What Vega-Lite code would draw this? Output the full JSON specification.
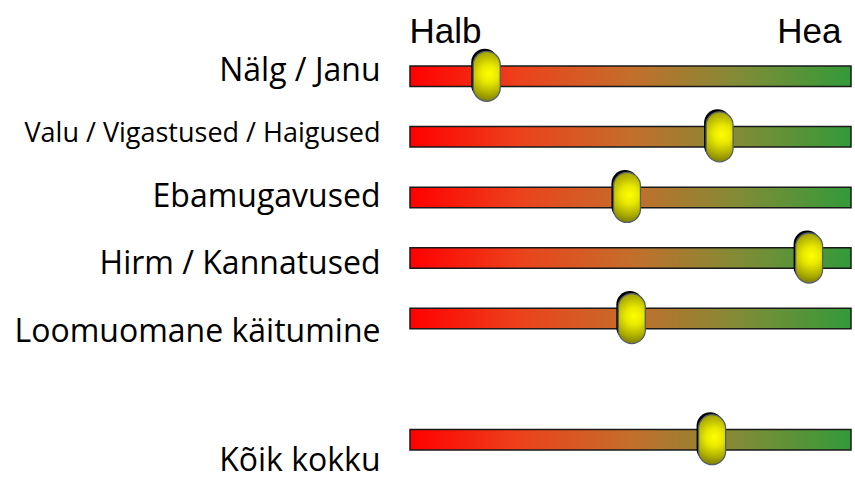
{
  "$schema": "https://vega.github.io/schema/vega-lite/v6.json",
  "width": 441,
  "height": 424,
  "autosize": {"type": "none"},
  "padding": {"left": 410, "top": 46, "right": 4, "bottom": 9},
  "background": "white",
  "config": {"view": {"stroke": null}},
  "data": {
    "values": [
      {"item": "Nälg / Janu", "score": 17.4},
      {"item": "Valu / Vigastused / Haigused", "score": 70.2},
      {"item": "Ebamugavused", "score": 49.2},
      {"item": "Hirm / Kannatused", "score": 90.5},
      {"item": "Loomuomane käitumine", "score": 50.3},
      {"item": "Kõik kokku", "score": 68.5}
    ]
  },
  "encoding": {
    "y": {
      "field": "item",
      "type": "nominal",
      "scale": {
        "type": "band",
        "domain": ["Nälg / Janu", "Valu / Vigastused / Haigused", "Ebamugavused", "Hirm / Kannatused", "Loomuomane käitumine", " ", "Kõik kokku"],
        "paddingInner": 0,
        "paddingOuter": 0
      },
      "axis": {
        "title": null,
        "domain": false,
        "ticks": false,
        "tickSize": 0,
        "grid": false,
        "labelPadding": 30,
        "labelFont": "Open Sans",
        "labelColor": "black",
        "labelLimit": 600,
        "labelBaseline": "middle",
        "labelFontSize": {"condition": {"test": "datum.value === 'Valu / Vigastused / Haigused'", "value": 27}, "value": 32},
        "labelOffset": {"expr": "datum.value === 'Nälg / Janu' ? -5 : datum.value === 'Valu / Vigastused / Haigused' ? -3 : datum.value === 'Ebamugavused' ? 0 : datum.value === 'Hirm / Kannatused' ? 6 : datum.value === 'Loomuomane käitumine' ? 13 : datum.value === 'Kõik kokku' ? 21 : 0"}
      }
    }
  },
  "layer": [
    {
      "mark": {
        "type": "bar",
        "height": 20.5,
        "stroke": "#1a1a1a",
        "strokeWidth": 1.5,
        "fill": {
          "gradient": "linear",
          "x1": 0, "y1": 0, "x2": 1, "y2": 0,
          "stops": [
            {"offset": 0, "color": "#ff0000"},
            {"offset": 0.25, "color": "#ec421c"},
            {"offset": 0.5, "color": "#c46e2b"},
            {"offset": 0.75, "color": "#808c36"},
            {"offset": 1, "color": "#339a3a"}
          ]
        }
      },
      "encoding": {
        "x": {
          "datum": 100,
          "type": "quantitative",
          "scale": {"domain": [0, 100], "nice": false, "zero": true},
          "axis": {
            "orient": "top",
            "values": [0, 100],
            "labelExpr": "datum.value == 0 ? 'Halb' : 'Hea'",
            "title": null,
            "domain": false,
            "ticks": false,
            "tickSize": 0,
            "grid": false,
            "labelFont": "Liberation Sans",
            "labelFontSize": 35,
            "labelColor": "black",
            "labelBaseline": "alphabetic",
            "labelPadding": 4,
            "labelFlush": false,
            "labelBound": false,
            "labelAlign": {"condition": {"test": "datum.value == 0", "value": "left"}, "value": "right"},
            "labelOffset": {"condition": {"test": "datum.value == 0", "value": -1}, "value": -10}
          }
        }
      }
    },
    {
      "mark": {
        "type": "point",
        "shape": "M-0.54,-0.46 C-0.54,-0.758 -0.298,-1 0,-1 C0.298,-1 0.54,-0.758 0.54,-0.46 L0.54,0.46 C0.54,0.758 0.298,1 0,1 C-0.298,1 -0.54,0.758 -0.54,0.46 Z",
        "size": 2500,
        "filled": true,
        "fill": "black",
        "opacity": 1,
        "xOffset": -2,
        "yOffset": -2.5
      },
      "encoding": {
        "x": {"field": "score", "type": "quantitative"}
      }
    },
    {
      "mark": {
        "type": "point",
        "shape": "M-0.54,-0.46 C-0.54,-0.758 -0.298,-1 0,-1 C0.298,-1 0.54,-0.758 0.54,-0.46 L0.54,0.46 C0.54,0.758 0.298,1 0,1 C-0.298,1 -0.54,0.758 -0.54,0.46 Z",
        "size": 2500,
        "filled": true,
        "opacity": 1,
        "stroke": "#55606e",
        "strokeWidth": 1.3,
        "fill": {
          "gradient": "radial",
          "x1": 0.55, "y1": 0.45, "r1": 0,
          "x2": 0.55, "y2": 0.45, "r2": 0.6,
          "stops": [
            {"offset": 0, "color": "#ffff00"},
            {"offset": 0.3, "color": "#e8e800"},
            {"offset": 0.65, "color": "#b0b000"},
            {"offset": 1, "color": "#707000"}
          ]
        }
      },
      "encoding": {
        "x": {"field": "score", "type": "quantitative"}
      }
    }
  ]
}
